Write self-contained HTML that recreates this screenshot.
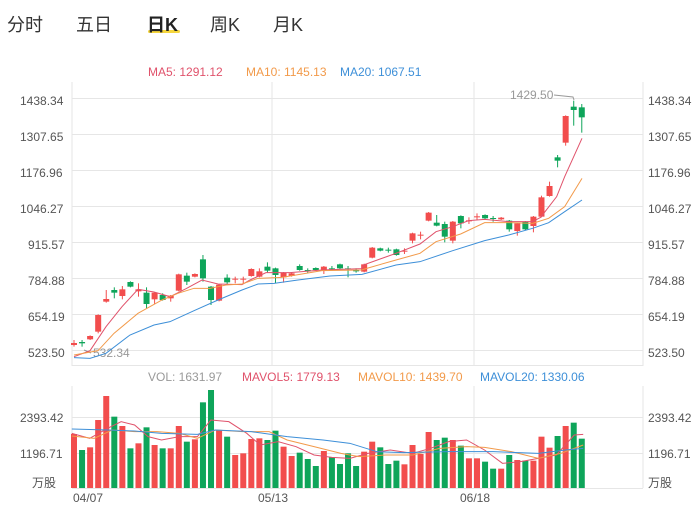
<!DOCTYPE html>
<html><head><meta charset="utf-8"><style>
body{margin:0;background:#fff;width:700px;height:511px;overflow:hidden;font-family:"Liberation Sans","Noto Sans CJK SC",sans-serif}
.tab{position:absolute;top:11px;font-size:18px;color:#333}
</style></head><body>
<div class="tab" style="left:7px">分时</div>
<div class="tab" style="left:76px">五日</div>
<div style="position:absolute;left:148px;top:30px;width:32px;height:3px;background:#f5d63d;border-radius:2px"></div>
<div class="tab" style="left:147px;font-weight:bold;color:#222">日K</div>
<div class="tab" style="left:210px">周K</div>
<div class="tab" style="left:273px">月K</div>
<svg id="s" width="700" height="511" style="position:absolute;left:0;top:0" font-family="Liberation Sans, Noto Sans CJK SC, sans-serif" font-size="12">
<g stroke="#e6e6e6" stroke-width="1">
<line x1="72" y1="82" x2="72" y2="366"/><line x1="643" y1="82" x2="643" y2="366"/>
<line x1="272" y1="82" x2="272" y2="366"/><line x1="474" y1="82" x2="474" y2="366"/>
<line x1="72" y1="98.5" x2="643" y2="98.5"/><line x1="72" y1="134.5" x2="643" y2="134.5"/>
<line x1="72" y1="170.5" x2="643" y2="170.5"/><line x1="72" y1="206.5" x2="643" y2="206.5"/>
<line x1="72" y1="242.5" x2="643" y2="242.5"/><line x1="72" y1="278.5" x2="643" y2="278.5"/>
<line x1="72" y1="314.5" x2="643" y2="314.5"/><line x1="72" y1="350.5" x2="643" y2="350.5"/>
<line x1="72" y1="365.5" x2="643" y2="365.5"/>
<line x1="72" y1="386" x2="72" y2="488"/><line x1="643" y1="386" x2="643" y2="488"/>
<line x1="272" y1="386" x2="272" y2="488"/><line x1="474" y1="386" x2="474" y2="488"/>
<line x1="72" y1="417.5" x2="643" y2="417.5"/><line x1="72" y1="453.5" x2="643" y2="453.5"/>
<line x1="72" y1="488.5" x2="643" y2="488.5"/>
</g>
<g fill="#555">
<text x="20" y="105">1438.34</text><text x="20" y="141">1307.65</text><text x="20" y="177">1176.96</text>
<text x="20" y="213">1046.27</text><text x="28" y="249">915.57</text><text x="28" y="285">784.88</text>
<text x="28" y="321">654.19</text><text x="28" y="357">523.50</text>
<text x="648" y="105">1438.34</text><text x="648" y="141">1307.65</text><text x="648" y="177">1176.96</text>
<text x="648" y="213">1046.27</text><text x="648" y="249">915.57</text><text x="648" y="285">784.88</text>
<text x="648" y="321">654.19</text><text x="648" y="357">523.50</text>
<text x="20" y="422">2393.42</text><text x="20" y="458">1196.71</text><text x="32" y="487">万股</text>
<text x="648" y="422">2393.42</text><text x="648" y="458">1196.71</text><text x="648" y="487">万股</text>
<text x="73" y="502">04/07</text><text x="258" y="502">05/13</text><text x="460" y="502">06/18</text>
</g>
<text x="148" y="76" fill="#e0526b">MA5: 1291.12</text>
<text x="246" y="76" fill="#f29a4a">MA10: 1145.13</text>
<text x="340" y="76" fill="#3d8fd8">MA20: 1067.51</text>
<text x="148" y="381" fill="#999">VOL: 1631.97</text>
<text x="242" y="381" fill="#e0526b">MAVOL5: 1779.13</text>
<text x="358" y="381" fill="#f29a4a">MAVOL10: 1439.70</text>
<text x="480" y="381" fill="#3d8fd8">MAVOL20: 1330.06</text>
<text x="93" y="357" fill="#999">532.34</text>
<text x="510" y="99" fill="#999">1429.50</text>
<polyline points="84,350 91,353" stroke="#999" fill="none"/>
<polyline points="554,95 573,97 574,100" stroke="#999" fill="none"/>
<g id="c"></g>
</svg>
<script>
var NS="http://www.w3.org/2000/svg",g=document.getElementById('c');
function el(t,a){var e=document.createElementNS(NS,t);for(var k in a)e.setAttribute(k,a[k]);g.appendChild(e);}
var R="#f24d4d",G="#0ea55a";
var c1=[['r',789,795,780,800],['g',786,790,780,800],['r',768,778,766,780],['r',705,755,703,760],['r',657,665,630,668],['g',630,638,622,655],['r',628,648,618,658],['g',606,620,604,622],['r',628,634,610,650],['g',638,672,622,685],['r',638,658,636,672],['g',645,660,640,662],['r',647,655,645,665],['r',583,632,581,634],['g',587,605,578,615],['r',582,590,580,592],['g',538,595,525,605],['g',620,660,618,675],['r',614,662,612,664],['g',593,607,583,612],['r',596,598,590,610],['r',596,598,590,610],['r',567,588,565,590],['r',574,590,565,592],['g',560,572,547,578],['g',565,585,563,610],['r',578,592,576,608],['r',580,588,578,590],['g',558,570,553,572],['g',570,574,565,578],['g',564,570,562,572],['r',560,572,558,582],['g',565,567,558,572],['g',553,565,551,567],['g',565,567,558,592],['g',571,573,565,578]];
var c2=[['r',553,575,551,577],['r',503,533,501,535],['g',505,512,503,514],['g',509,511,503,518],['g',508,525,506,527],['r',512,514,505,522],['r',460,482,458,490],['r',464,466,455,478],['r',398,422,396,424],['g',428,437,405,439],['g',432,470,425,487],['r',425,482,423,490],['g',408,430,406,445],['r',421,423,412,432],['r',409,411,400,420],['g',405,415,403,418],['g',414,416,408,425],['r',413,418,411,420],['g',422,448,420,455],['r',430,453,428,467],['g',425,448,423,450],['r',410,438,408,457],['r',352,410,347,412],['r',318,348,305,350],['g',232,242,225,262],['r',108,188,106,197],['g',80,90,62,137],['g',82,112,72,158]];
var all=c1.concat(c2);
function X(i){return 74+i*8.06;}
all.forEach(function(d,i){var col=d[0]=='r'?R:G,x=X(i),y=function(v){return 80+v/3};
el('line',{x1:x,x2:x,y1:y(d[3]),y2:y(d[4]),stroke:col,'stroke-width':1});
var t=y(d[1]),b=y(d[2]);el('rect',{x:x-3,y:t,width:6,height:Math.max(1,b-t),fill:col});});
function pl(pts,col,fx,fy){el('polyline',{points:pts.map(function(p){return fx(p[0])+','+fy(p[1])}).join(' '),stroke:col,fill:'none','stroke-width':1});}
var z1x=function(v){return 60+v/3},z2x=function(v){return 360+v/3},zy=function(v){return 80+v/3};
var ma5a=[[42,830],[90,812],[138,740],[186,680],[234,628],[282,636],[330,650],[378,626],[426,600],[474,612],[546,614],[570,600],[618,578],[690,578],[786,570],[906,566],[954,540],[1000,522]];
var ma5b=[[10,555],[108,520],[180,492],[228,455],[278,440],[326,422],[374,418],[446,425],[518,425],[542,412],[590,350],[614,290],[666,175]];
var ma10a=[[42,825],[114,812],[162,760],[234,700],[306,660],[354,640],[402,625],[450,625],[498,615],[546,612],[594,595],[666,592],[786,572],[906,570],[954,550],[1000,538]];
var ma10b=[[10,568],[108,540],[180,520],[228,485],[302,462],[374,428],[446,428],[518,430],[566,415],[614,380],[666,295]];
var ma20a=[[42,833],[90,835],[138,820],[210,765],[282,735],[330,725],[402,692],[474,660],[546,630],[594,612],[642,610],[714,600],[810,588],[906,583],[954,570],[1000,560]];
var ma20b=[[10,582],[108,555],[180,545],[278,512],[374,482],[446,465],[518,445],[566,428],[614,395],[666,360]];
function merge(a,b){return a.map(function(p){return [z1x(p[0]),p[1]]}).filter(function(p){return p[0]<363}).concat(b.map(function(p){return [z2x(p[0]),p[1]]}));}
var id=function(v){return v};
pl(merge(ma5a,ma5b),"#e0526b",id,zy);pl(merge(ma10a,ma10b),"#f29a4a",id,zy);pl(merge(ma20a,ma20b),"#3d8fd8",id,zy);
var vc="rgrrrgrgrgrgrrgrggrgrrrrggrrgggrggggrrgggrrrrggrgrrggrgrgrrrgrgg";
var vt=[192,240,232,150,78,140,168,235,220,172,225,235,235,168,215,208,97,60,180,200,255,250,207,205,210,182,230,258,248,267,288,243,262,282,250,288,245,215,232,282,272,283,225,252,186,210,203,210,227,265,265,275,296,296,255,270,272,272,200,233,198,168,158,206];
vt.forEach(function(v,i){var t=370+v/3;el('rect',{x:X(i)-3,y:t,width:6,height:488-t,fill:vc[i]=='r'?R:G});});
var vx=function(v){return v/2.229},vy=function(v){return 370+v/3};
pl([[160,190],[200,205],[240,175],[270,155],[300,165],[330,200],[360,210],[400,200],[440,200],[470,150],[510,155],[550,190],[580,225],[620,215],[660,230],[700,255],[740,262],[780,265],[820,250],[870,240],[920,250],[960,235],[1000,215],[1040,210],[1080,240],[1120,280],[1160,275],[1200,265],[1240,255],[1280,195],[1300,193]],"#e0526b",vx,vy);
pl([[160,198],[210,205],[250,180],[300,185],[350,185],[400,190],[440,205],[480,180],[540,185],[600,185],[640,210],[700,230],[760,250],[800,260],[860,255],[920,255],[980,235],[1040,230],[1080,232],[1140,245],[1200,265],[1250,250],[1300,225]],"#f29a4a",vx,vy);
pl([[160,177],[240,180],[300,183],[360,190],[440,193],[480,180],[560,185],[640,200],[720,210],[780,220],[840,245],[900,248],[1000,245],[1100,245],[1200,250],[1260,240],[1300,235]],"#3d8fd8",vx,vy);
</script>
</body></html>
